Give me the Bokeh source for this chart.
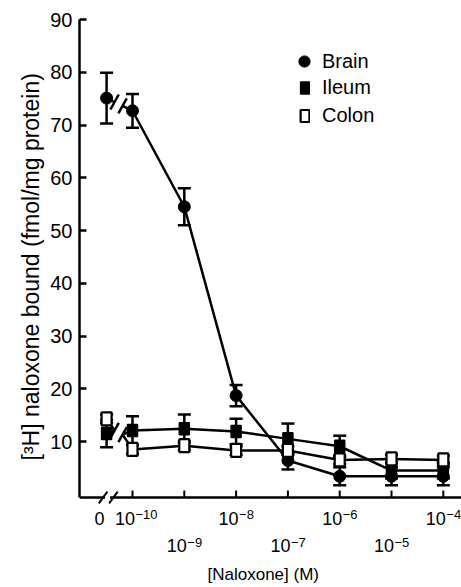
from bokeh.plotting import figure
from bokeh.models import Range1d, FixedTicker, LinearAxis, Legend, LegendItem, Title
from bokeh.embed import file_html
from bokeh.resources import INLINE

# ---------------- data ----------------
conc_exponent = [None, -10, -9, -8, -7, -6, -5, -4]   # log10 [naloxone] (M); None = no naloxone ("0")
brain = [75.1, 72.7, 54.5, 18.7, 6.4, 3.4, 3.4, 3.4]
brain_err = [4.8, 3.2, 3.5, 2.0, 1.7, 1.7, 1.7, 1.7]
ileum = [11.5, 12.1, 12.4, 11.9, 10.5, 9.1, 4.5, 4.5]
ileum_err = [2.6, 2.7, 2.7, 2.4, 2.9, 2.0, 1.5, 1.5]
colon = [14.3, 8.5, 9.2, 8.3, 8.3, 6.5, 6.7, 6.5]
colon_err = [0.8, 0.8, 0.8, 0.8, 0.8, 0.8, 0.8, 0.8]

y_ticks = [10, 20, 30, 40, 50, 60, 70, 80, 90]
x_row1_ticks = [-10, -8, -6, -4]          # labelled on the first row
x_row2_ticks = [-9, -7, -5]               # labelled on the second row
x_base_label = "10"
zero_label = "0"
series_names = ["Brain", "Ileum", "Colon"]
y_title = "[³H] naloxone bound (fmol/mg protein)"
x_title = "[Naloxone] (M)"

# ---------------- layout constants ----------------
FONT = "Liberation Sans"
W, H = 461, 587
LEFT, TOP, BOTTOM = 79, 19, 27
X0, X1 = -11.023, -3.649
Y1 = 90.0
PX_Y = 5.275                         # pixels per y unit
Y0 = Y1 - (H - TOP - BOTTOM) / PX_Y  # frame reaches down over the tick-label rows
AXIS_Y = -0.62          # where the x axis line sits
ZERO_X = -10.5          # where "0" is placed on the broken axis
PX_X = (W - LEFT) / (X1 - X0)
LW = 2.5
EXP_FS = 13


def y_at(py):
    """data y of a pixel row of the canvas"""
    return Y1 - (py - TOP) / PX_Y


xs = [ZERO_X if e is None else e for e in conc_exponent]

p = figure(width=W, height=H, x_range=Range1d(X0, X1), y_range=Range1d(Y0, Y1),
           output_backend="svg", toolbar_location=None, x_axis_type=None,
           min_border_left=LEFT, min_border_right=0, min_border_top=TOP,
           min_border_bottom=BOTTOM)
p.outline_line_color = None
p.grid.visible = False
p.background_fill_color = "white"
p.border_fill_color = "white"

# ---- y axis ----
yax = p.yaxis[0]
yax.ticker = FixedTicker(ticks=y_ticks)
yax.bounds = (AXIS_Y, Y1)
yax.axis_line_width = LW
yax.major_tick_line_width = LW
yax.major_tick_in = 7
yax.major_tick_out = 0
yax.minor_tick_line_color = None
yax.major_label_standoff = 7
yax.major_label_text_font = FONT
yax.major_label_text_font_size = "20px"
yax.major_label_text_color = "black"
# y title starts (reading upward) level with the lower part of the axis
p.add_layout(Title(text=y_title, align="left", offset=100, standoff=7,
                   text_font=FONT, text_font_size="23px", text_font_style="normal",
                   text_color="black"), "left")

# ---- x axis line, ticks and break (drawn in data space) ----
tick_len = 7 / PX_Y
all_ticks = sorted(x_row1_ticks + x_row2_ticks)
gap_l = ZERO_X - 1.5 / PX_X
gap_r = ZERO_X + 3.5 / PX_X
p.segment(x0=[X0, gap_r], y0=[AXIS_Y, AXIS_Y], x1=[gap_l, X1], y1=[AXIS_Y, AXIS_Y],
          line_color="black", line_width=LW)
p.segment(x0=all_ticks, y0=[AXIS_Y] * len(all_ticks), x1=all_ticks,
          y1=[AXIS_Y + tick_len] * len(all_ticks), line_color="black", line_width=2)
ax_break_cx = [ZERO_X - 3.5 / PX_X, ZERO_X + 6.8 / PX_X]
hx, hy = 4.3 / PX_X, 5.9 / PX_Y
p.segment(x0=[c - hx for c in ax_break_cx], y0=[AXIS_Y - hy] * 2,
          x1=[c + hx for c in ax_break_cx], y1=[AXIS_Y + hy] * 2,
          line_color="black", line_width=2)


# ---- x tick labels: label-only axes pinned below the axis line ----
def pinned_label_axis(positions, labels, top_px, size):
    ax = LinearAxis(ticker=FixedTicker(ticks=positions),
                    major_label_overrides=dict(zip(positions, labels)),
                    fixed_location=y_at(top_px))
    ax.axis_line_color = None
    ax.major_tick_line_color = None
    ax.minor_tick_line_color = None
    ax.major_tick_in = 0
    ax.major_tick_out = 0
    ax.major_label_standoff = 0
    ax.major_label_text_font = FONT
    ax.major_label_text_font_size = size
    ax.major_label_text_color = "black"
    p.add_layout(ax, "below")


base_shift = -7.5 / PX_X     # "10" sits just left of its tick
zero_pos = ZERO_X - 7 / PX_X
row1_pos = [t + base_shift for t in x_row1_ticks]
row2_pos = [t + base_shift for t in x_row2_ticks]
pinned_label_axis([zero_pos] + row1_pos, [zero_label] + [x_base_label] * len(row1_pos),
                  511.0, "18px")
pinned_label_axis(row2_pos, [x_base_label] * len(row2_pos), 538.5, "18px")


def exp_text(t):
    return "\u2212" + str(abs(t))


def exp_pos(t):
    width = EXP_FS * (0.584 + 0.556 * len(str(abs(t))))
    return t + (3.0 + width / 2) / PX_X


for ticks, top_px in ((x_row1_ticks, 509.5), (x_row2_ticks, 537.0)):
    pinned_label_axis([exp_pos(t) for t in ticks], [exp_text(t) for t in ticks],
                      top_px, f"{EXP_FS}px")

p.add_layout(Title(text=x_title, align="left", offset=128, standoff=4,
                   text_font=FONT, text_font_size="17px", text_font_style="normal",
                   text_color="black"), "below")

# ---- axis breaks on the data lines between "0" and 1e-10 ----
b1, b2 = ZERO_X + 8 / PX_X, ZERO_X + 16 / PX_X
frac1 = (b1 - xs[0]) / (xs[1] - xs[0])
frac2 = (b2 - xs[0]) / (xs[1] - xs[0])
sx, sy = 4.2 / PX_X, 7.5 / PX_Y
for group in ([brain], [ileum, colon]):
    l1 = sum(v[0] + (v[1] - v[0]) * frac1 for v in group) / len(group)
    l2 = sum(v[0] + (v[1] - v[0]) * frac2 for v in group) / len(group)
    p.segment(x0=[b1 - sx, b2 - sx], y0=[l1 - sy, l2 - sy],
              x1=[b1 + sx, b2 + sx], y1=[l1 + sy, l2 + sy],
              line_color="black", line_width=LW)
    for v in group:
        p.segment(x0=[xs[0], b2], y0=[v[0], l2], x1=[b1, xs[1]], y1=[l1, v[1]],
                  line_color="black", line_width=LW)

# ---- series lines, error bars, markers ----
for vals in (brain, ileum, colon):
    p.line(xs[1:], vals[1:], line_color="black", line_width=LW)

for vals, errs in ((brain, brain_err), (ileum, ileum_err), (colon, colon_err)):
    lo = [v - e for v, e in zip(vals, errs)]
    hi = [v + e for v, e in zip(vals, errs)]
    p.segment(x0=xs, y0=lo, x1=xs, y1=hi, line_color="black", line_width=LW)
    p.scatter(xs, hi, marker="dash", size=13, line_color="black", line_width=LW)
    p.scatter(xs, lo, marker="dash", size=13, line_color="black", line_width=LW)

r_brain = p.scatter(xs, brain, marker="circle", size=12, fill_color="black",
                    line_color="black", line_width=1)
r_ileum = p.rect(xs, ileum, width=10, height=12, width_units="screen",
                 height_units="screen", fill_color="black", line_color="black",
                 line_width=1.5)
r_colon = p.rect(xs, colon, width=10, height=13, width_units="screen",
                 height_units="screen", fill_color="white", line_color="black",
                 line_width=2.2)

# ---- legend (location measured from the frame's bottom-left) ----
frame_bottom = H - BOTTOM
leg_common = dict(padding=0, margin=0, background_fill_alpha=0, border_line_alpha=0,
                  label_text_font=FONT, label_text_font_size="20px",
                  label_text_color="black")
legA = Legend(items=[LegendItem(label=series_names[0], renderers=[r_brain])],
              location=(211, frame_bottom - 75), glyph_width=28, glyph_height=28,
              label_standoff=4, spacing=0, **leg_common)
legB = Legend(items=[LegendItem(label=series_names[1], renderers=[r_ileum]),
                     LegendItem(label=series_names[2], renderers=[r_colon])],
              location=(220, frame_bottom - 127), glyph_width=11, glyph_height=15,
              label_height=20, label_standoff=12, spacing=5, **leg_common)
p.add_layout(legA)
p.add_layout(legB)

open("out.html", "w").write(file_html(p, INLINE))
